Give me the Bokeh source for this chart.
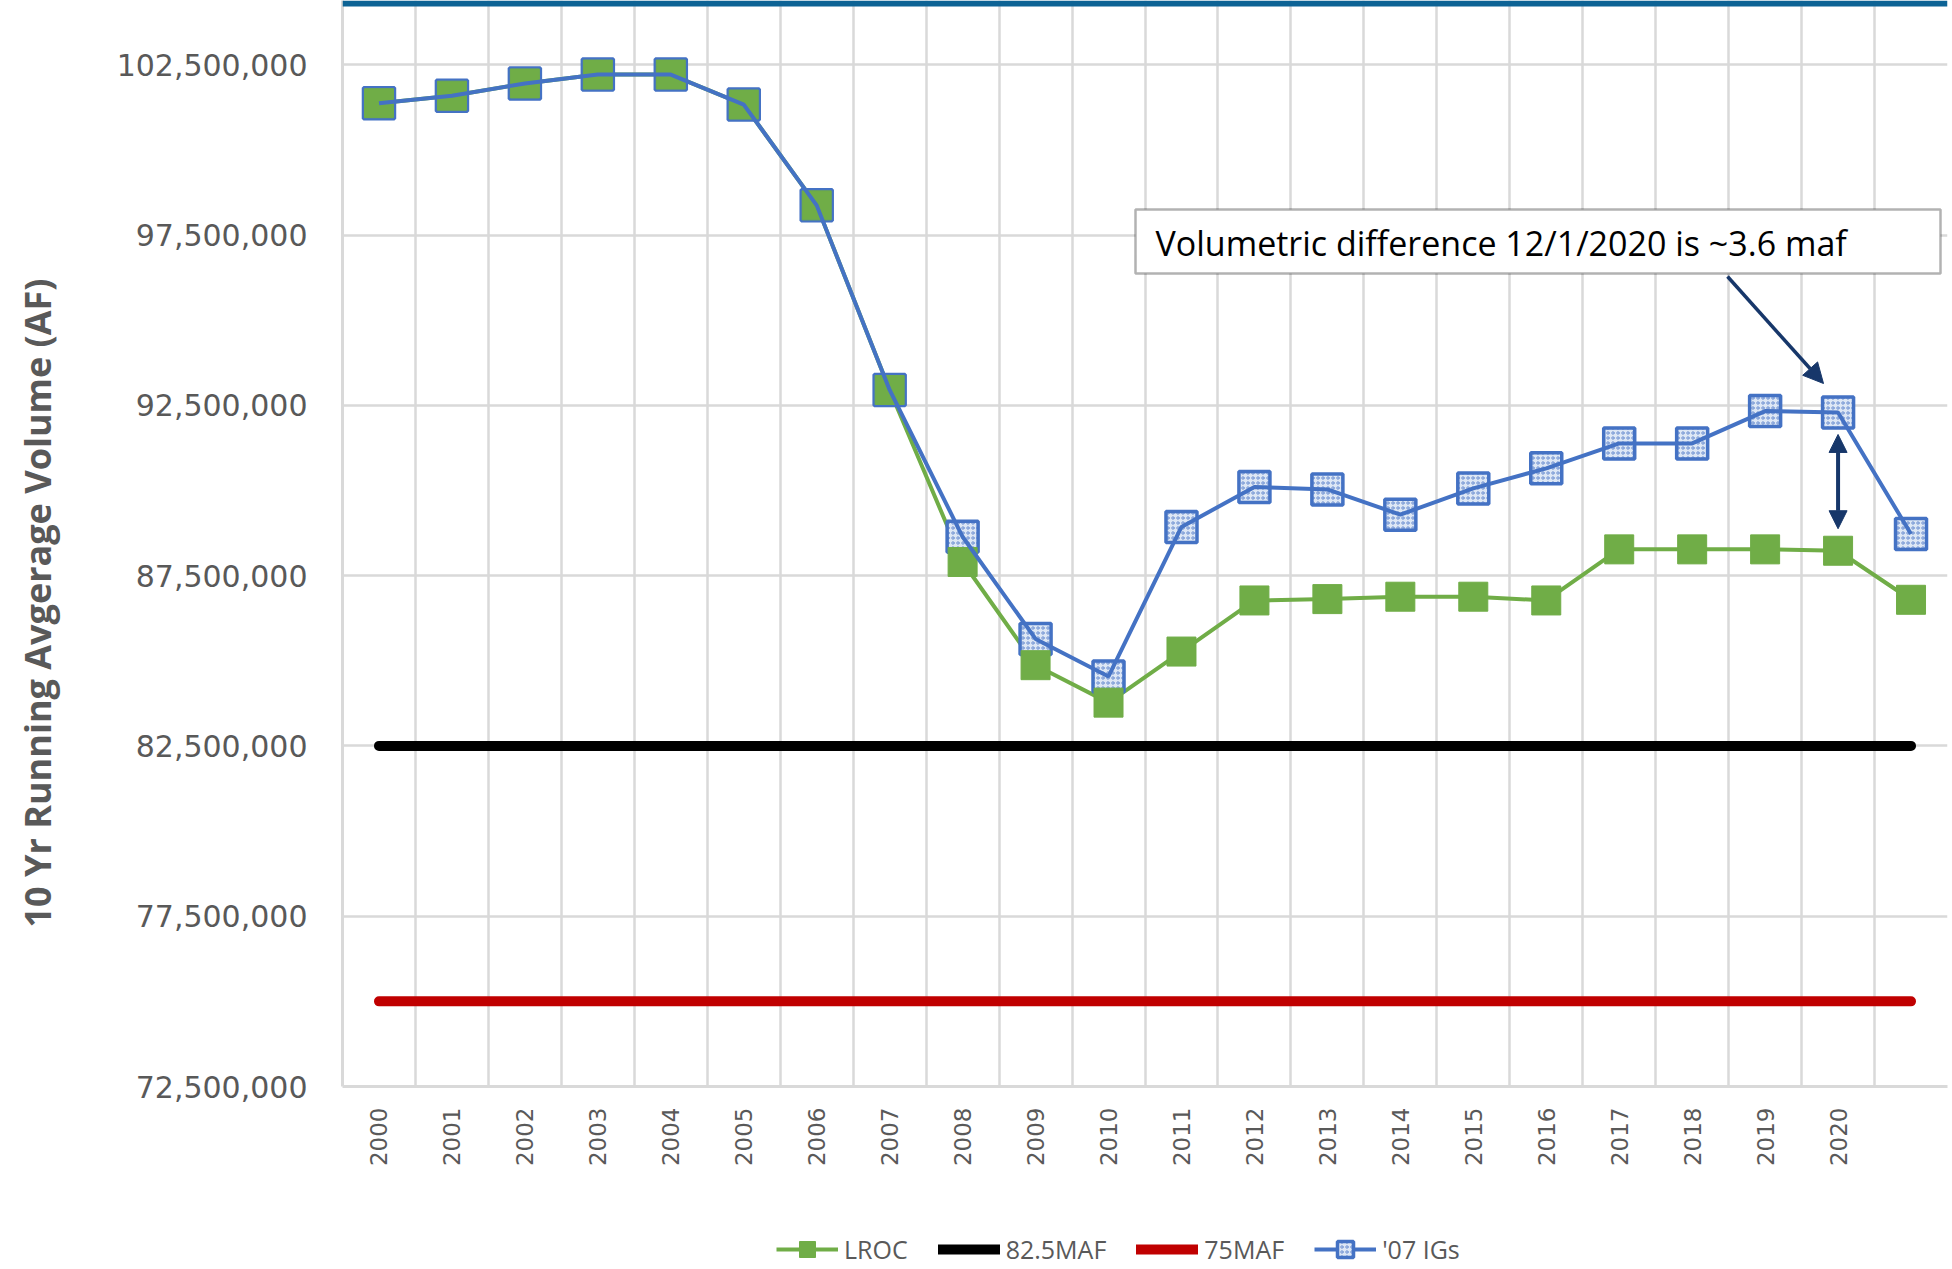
import math
from bokeh.plotting import figure
from bokeh.layouts import column
from bokeh.models import (ColumnDataSource, FixedTicker, NumeralTickFormatter, Range1d,
                          Legend, LegendItem, Label, BoxAnnotation, Arrow, NormalHead, Title)
from bokeh.embed import file_html
from bokeh.resources import INLINE

# ---------------- data ----------------
categories = ["2000", "2001", "2002", "2003", "2004", "2005", "2006", "2007", "2008", "2009",
              "2010", "2011", "2012", "2013", "2014", "2015", "2016", "2017", "2018", "2019",
              "2020", ""]
lroc = [101370000, 101590000, 101950000, 102210000, 102210000, 101330000, 98370000, 92950000,
        87900000, 84870000, 83770000, 85270000, 86770000, 86810000, 86880000, 86880000,
        86770000, 88270000, 88270000, 88270000, 88230000, 86790000]
igs07 = [101370000, 101590000, 101950000, 102210000, 102210000, 101330000, 98370000, 92950000,
         88640000, 85640000, 84540000, 88930000, 90100000, 90030000, 89290000, 90060000,
         90650000, 91380000, 91380000, 92330000, 92290000, 88720000]
maf825 = [82500000] * len(categories)
maf75 = [75000000] * len(categories)
y_ticks = [72500000, 77500000, 82500000, 87500000, 92500000, 97500000, 102500000]
series_names = ["LROC", "82.5MAF", "75MAF", "'07 IGs"]

# ---------------- geometry ----------------
W = 1952
LH = 40            # legend strip height
H = 1269 - LH      # main figure height
BL, BR, BT = 342, 5, 0
FH = 1086
BB = H - FH - BT
FW = W - BL - BR
Y0 = 72500000
Y1 = Y0 + FH * (5000000 / 170.3)
N = len(categories)

GRID = "#d9d9d9"
TXT = "#595959"
GREEN = "#70ad47"
BLUE = "#4472c4"
NAVY = "#17376a"
RED = "#c00000"


def px2x(px):
    return -0.5 + (px - BL) / FW * N


def px2y(py):
    return Y1 - (py - BT) / FH * (Y1 - Y0)


idx = list(range(N))
src = ColumnDataSource(dict(x=idx, lroc=lroc, igs=igs07, m825=maf825, m75=maf75))

p = figure(width=W, height=H, output_backend="svg", toolbar_location=None,
           x_range=Range1d(-0.5, N - 0.5), y_range=Range1d(Y0, Y1),
           min_border_left=BL, min_border_right=BR, min_border_top=BT, min_border_bottom=BB)
p.outline_line_color = None
p.background_fill_color = "white"
p.border_fill_color = "white"

# axes
p.xaxis.ticker = FixedTicker(ticks=idx)
p.xaxis.major_label_overrides = {i: c for i, c in enumerate(categories)}
p.xaxis.major_label_orientation = math.pi / 2
p.xaxis.major_label_text_font = "DejaVu Sans"
p.xaxis.major_label_text_font_size = "23px"
p.xaxis.major_label_text_color = TXT
p.xaxis.major_label_standoff = 21
p.xaxis.major_tick_out = 0
p.xaxis.major_tick_in = 0
p.xaxis.axis_line_color = GRID
p.xaxis.axis_line_width = 3
p.xaxis.major_tick_line_color = None
p.xaxis.minor_tick_line_color = None

p.yaxis.ticker = FixedTicker(ticks=y_ticks)
p.yaxis.formatter = NumeralTickFormatter(format="0,0")
p.yaxis.major_label_text_font = "DejaVu Sans"
p.yaxis.major_label_text_font_size = "30px"
p.yaxis.major_label_text_color = TXT
p.yaxis.major_label_standoff = 35
p.yaxis.major_tick_out = 0
p.yaxis.major_tick_in = 0
p.yaxis.axis_line_color = GRID
p.yaxis.axis_line_width = 3
p.yaxis.major_tick_line_color = None
p.yaxis.minor_tick_line_color = None
# blank spacer between tick labels and the title
p.yaxis.axis_label = " "
p.yaxis.axis_label_text_font_size = "10px"
p.yaxis.axis_label_standoff = 28

p.xgrid.ticker = FixedTicker(ticks=[i + 0.5 for i in idx])
p.xgrid.grid_line_color = GRID
p.xgrid.grid_line_width = 2.5
p.ygrid.ticker = FixedTicker(ticks=y_ticks)
p.ygrid.grid_line_color = GRID
p.ygrid.grid_line_width = 2.5

# y axis title
p.add_layout(Title(text="10 Yr Running Avgerage Volume (AF)", align="left", offset=159,
                   standoff=20, text_font="Open Sans", text_font_style="bold",
                   text_font_size="36px", text_color=TXT), "left")

# top band
p.add_layout(BoxAnnotation(bottom=px2y(6), top=Y1, fill_color="#0d6395", fill_alpha=1,
                           line_alpha=0))

line_styles = dict(black=dict(line_color="black", line_width=10, line_cap="round"),
                   red=dict(line_color=RED, line_width=10, line_cap="round"),
                   gline=dict(line_color=GREEN, line_width=4),
                   bline=dict(line_color=BLUE, line_width=4))
bmark_style = dict(marker="square", size=31, fill_color="#dde7f5", line_color=BLUE,
                   line_width=3.5, hatch_pattern="ring", hatch_color=BLUE, hatch_scale=5,
                   hatch_weight=1, hatch_alpha=0.7)
gmark_style = dict(marker="square", size=29, fill_color=GREEN, line_color=GREEN, line_width=1)

p.line("x", "m825", source=src, **line_styles["black"])
p.line("x", "m75", source=src, **line_styles["red"])
p.line("x", "lroc", source=src, **line_styles["gline"])
p.scatter("x", "igs", source=src, **bmark_style)
p.scatter("x", "lroc", source=src, **gmark_style)
p.line("x", "igs", source=src, **line_styles["bline"])

# annotation box
p.add_layout(BoxAnnotation(left=px2x(1135), right=px2x(1940), top=px2y(209), bottom=px2y(273),
                           fill_color="white", fill_alpha=1, line_color="black", line_width=2.5))
p.add_layout(Label(x=px2x(1155), y=px2y(242), text="Volumetric difference 12/1/2020 is ~3.6 maf",
                   text_align="left", text_baseline="middle", text_font="Open Sans",
                   text_font_size="34px", text_color="black"))

# arrows
i2020 = categories.index("2020")
p.add_layout(Arrow(end=NormalHead(size=20, fill_color=NAVY, line_color=NAVY),
                   x_start=px2x(1727), y_start=px2y(276), x_end=px2x(1823), y_end=px2y(383),
                   line_color=NAVY, line_width=3.5))
gap = (Y1 - Y0) / FH * 22
p.add_layout(Arrow(start=NormalHead(size=18, fill_color=NAVY, line_color=NAVY),
                   end=NormalHead(size=18, fill_color=NAVY, line_color=NAVY),
                   x_start=i2020, y_start=igs07[i2020] - gap, x_end=i2020, y_end=lroc[i2020] + gap,
                   line_color=NAVY, line_width=4))

# ---------------- legend strip ----------------
lf = figure(width=W, height=LH, output_backend="svg", toolbar_location=None,
            x_range=Range1d(0, 1), y_range=Range1d(0, 1), min_border=0,
            x_axis_location=None, y_axis_location=None)
lf.outline_line_color = None
lf.xgrid.visible = False
lf.ygrid.visible = False
nan = float("nan")
empty = ColumnDataSource(dict(x=[nan], y=[nan]))
l_g = lf.line("x", "y", source=empty, **line_styles["gline"])
m_g = lf.scatter("x", "y", source=empty, **gmark_style)
l_k = lf.line("x", "y", source=empty, **line_styles["black"])
l_r = lf.line("x", "y", source=empty, **line_styles["red"])
l_b = lf.line("x", "y", source=empty, **line_styles["bline"])
m_b = lf.scatter("x", "y", source=empty, **bmark_style)

legend = Legend(items=[
    LegendItem(label=series_names[0], renderers=[l_g, m_g]),
    LegendItem(label=series_names[1], renderers=[l_k]),
    LegendItem(label=series_names[2], renderers=[l_r]),
    LegendItem(label=series_names[3], renderers=[l_b, m_b]),
], orientation="horizontal", location=(776 - BL, 0))
legend.label_text_font = "Open Sans"
legend.label_text_font_size = "25px"
legend.label_text_color = TXT
legend.glyph_width = 62
legend.glyph_height = 40
legend.label_standoff = 6
legend.spacing = 30
legend.padding = 0
legend.margin = 0
legend.border_line_alpha = 0
legend.background_fill_alpha = 0
lf.add_layout(legend, "center")

layout = column(p, lf, spacing=0)
open("out.html", "w").write(file_html(layout, INLINE))
